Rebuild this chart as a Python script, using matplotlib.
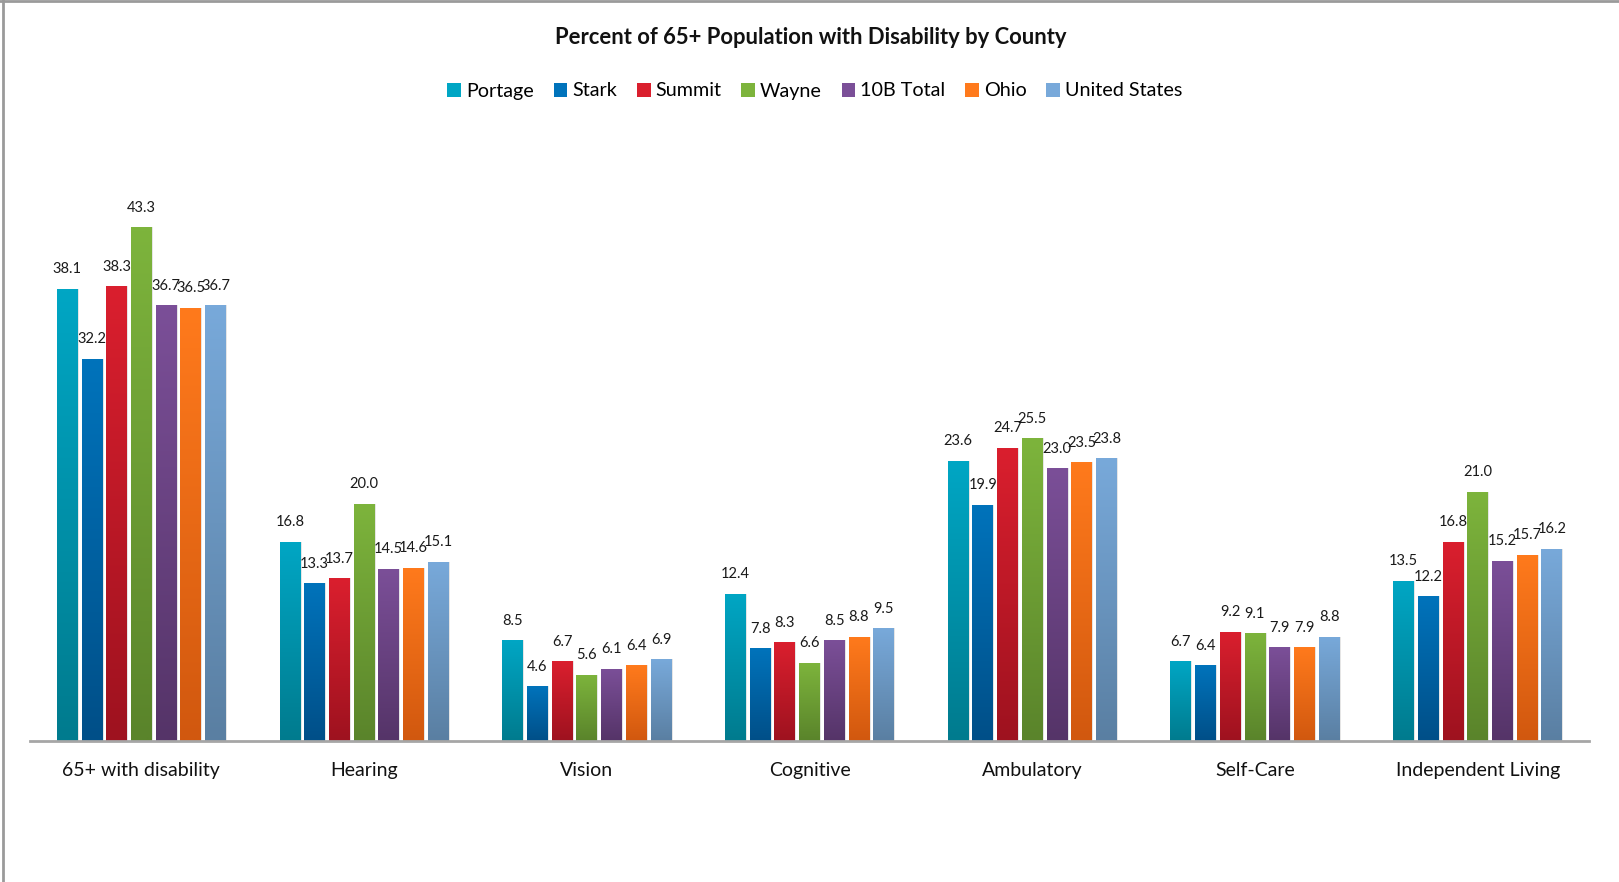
import numpy as np
import matplotlib
matplotlib.use("Agg")
import matplotlib.pyplot as plt
from matplotlib.colors import to_rgb
from matplotlib.patches import Patch
from matplotlib.lines import Line2D

plt.rcParams['font.family'] = ['Lato', 'DejaVu Sans']

categories = ["65+ with disability", "Hearing", "Vision", "Cognitive",
              "Ambulatory", "Self-Care", "Independent Living"]
series = ["Portage", "Stark", "Summit", "Wayne", "10B Total", "Ohio", "United States"]

portage = [38.1, 16.8, 8.5, 12.4, 23.6, 6.7, 13.5]
stark = [32.2, 13.3, 4.6, 7.8, 19.9, 6.4, 12.2]
summit = [38.3, 13.7, 6.7, 8.3, 24.7, 9.2, 16.8]
wayne = [43.3, 20.0, 5.6, 6.6, 25.5, 9.1, 21.0]
total_10b = [36.7, 14.5, 6.1, 8.5, 23.0, 7.9, 15.2]
ohio = [36.5, 14.6, 6.4, 8.8, 23.5, 7.9, 15.7]
united_states = [36.7, 15.1, 6.9, 9.5, 23.8, 8.8, 16.2]

values = [portage, stark, summit, wayne, total_10b, ohio, united_states]

# top colour, bottom colour of each gradient
top_colors = ["#00A6C4", "#0073BB", "#DA1F2E", "#7DB43C", "#7B4F98", "#FF7A1C", "#78A9DA"]
bottom_colors = ["#007B8E", "#004F88", "#9E121F", "#5A842B", "#553468", "#D1580F", "#5A7FA2"]

fig = plt.figure(figsize=(16.19, 8.82), dpi=100)
ax = fig.add_axes([30 / 1619, 1 - 741 / 882, (1589 - 30) / 1619, 600 / 882])

x = np.arange(len(categories))
pitch = 0.111
width = 0.0927
ymax = 600 / 11.87

for i, (name, vals) in enumerate(zip(series, values)):
    pos = x + (i - 3) * pitch
    # soft shadow
    ax.bar(pos + 0.006, vals, width, color="#000000", alpha=0.10, zorder=1)
    bars = ax.bar(pos, vals, width, color=top_colors[i], zorder=2)
    c0 = np.array(to_rgb(bottom_colors[i]))
    c1 = np.array(to_rgb(top_colors[i]))
    t = np.linspace(0, 1, 64)[:, None]
    grad = (c0 + (c1 - c0) * t)[:, None, :]
    for b in bars:
        bx, by = b.get_xy()
        img = ax.imshow(grad, extent=[bx, bx + b.get_width(), by, by + b.get_height()],
                        origin="lower", aspect="auto", interpolation="bilinear", zorder=3)
        img.set_clip_path(b)
    for p, v in zip(pos, vals):
        ax.annotate(f"{v:.1f}", (p, v), xytext=(0, 14), textcoords="offset points",
                    ha="center", va="center", fontsize=10.5, color="#1a1a1a", zorder=5)

ax.set_xlim(-0.5, len(categories) - 0.5)
ax.set_ylim(0, ymax)
ax.set_yticks([])
ax.set_xticks(x)
ax.set_xticklabels(categories, fontsize=14, color="#111111")
ax.tick_params(axis="x", length=0, pad=15)
for s in ["top", "right", "left"]:
    ax.spines[s].set_visible(False)
ax.spines["bottom"].set_color("#A6A6A6")
ax.spines["bottom"].set_linewidth(2)
ax.spines["bottom"].set_zorder(6)

fig.text(811 / 1619, 1 - 37 / 882, "Percent of 65+ Population with Disability by County",
         ha="center", va="center", fontsize=15.8, fontweight="bold", color="#111111")

handles = [Patch(facecolor=c) for c in top_colors]
fig.legend(handles, series, loc="center", bbox_to_anchor=(815 / 1619, 1 - 91 / 882),
           ncol=7, frameon=False, fontsize=14.2, handlelength=0.7, handleheight=0.7,
           handletextpad=0.25, columnspacing=1.0)

# chart border (left and top visible)
fig.add_artist(Line2D([2.5 / 1619, 2.5 / 1619], [0, 1], color="#9A9A9A", lw=2))
fig.add_artist(Line2D([0, 1], [1 - 1 / 882, 1 - 1 / 882], color="#9A9A9A", lw=2))

fig.savefig("out.png", dpi=100)
